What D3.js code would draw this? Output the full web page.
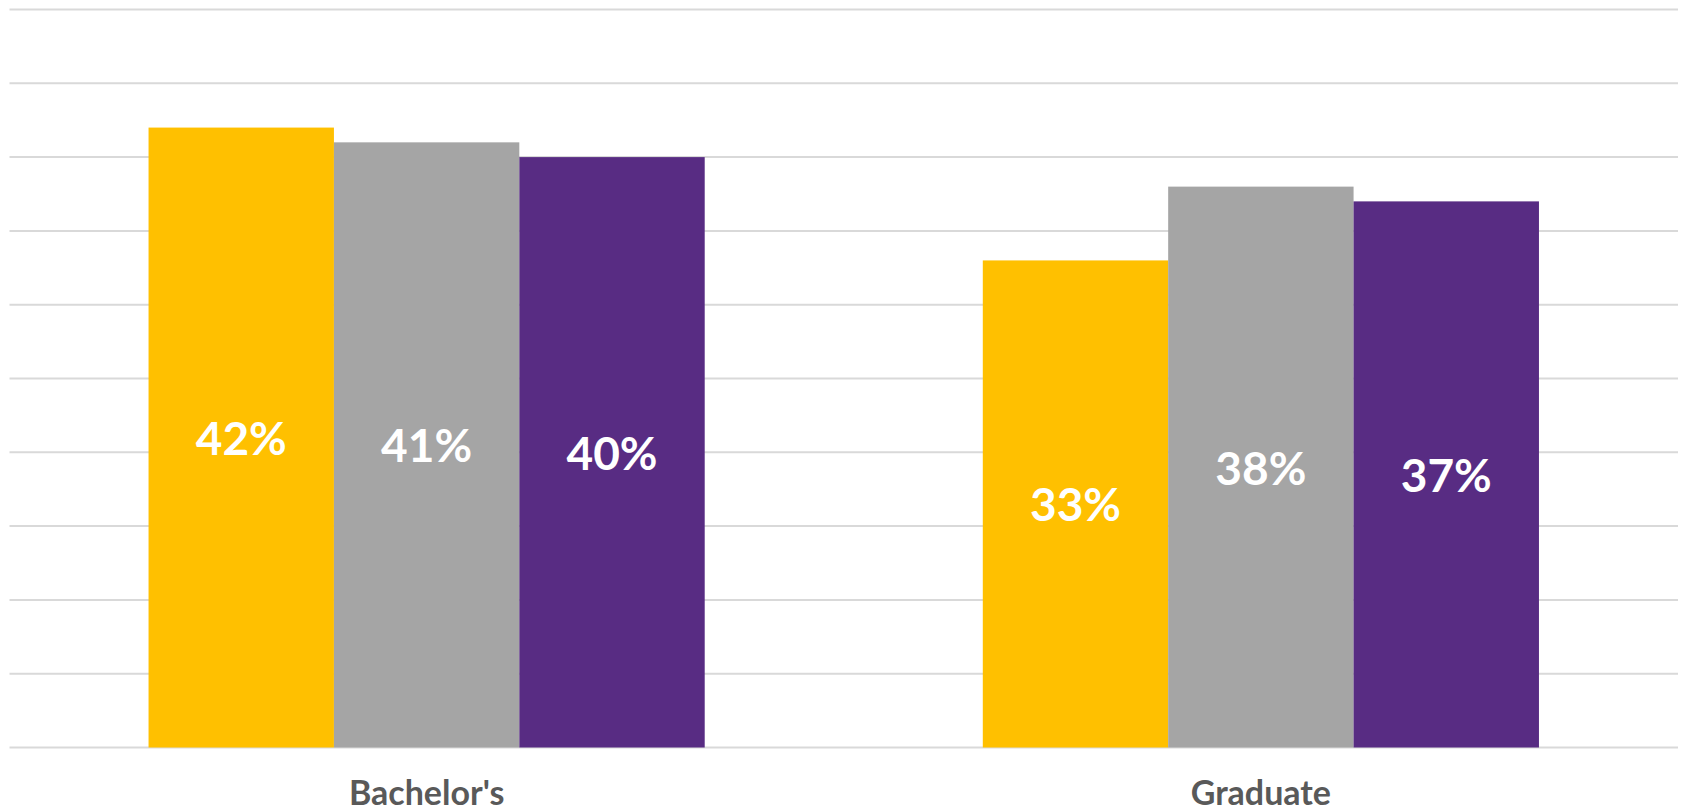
<!DOCTYPE html>
<html>
<head>
<meta charset="utf-8">
<script src="https://cdn.jsdelivr.net/npm/d3@7"></script>
<style>
  html, body { margin: 0; padding: 0; background: #ffffff; }
  svg { display: block; }
</style>
</head>
<body>
<svg id="chart" width="1683" height="812"></svg>
<script>
// Degree levels and the three series shown for each
const categories = ["Bachelor's", "Graduate"];
const seriesNames = ["Series A", "Series B", "Series C"];
const seriesColors = ["#FFC000", "#A5A5A5", "#582C83"];
const seriesA = [42, 33];
const seriesB = [41, 38];
const seriesC = [40, 37];
const gridTicks = [0, 5, 10, 15, 20, 25, 30, 35, 40, 45, 50];

const seriesValues = [seriesA, seriesB, seriesC];
const rows = categories.map((c, i) => ({
  category: c,
  values: seriesNames.map((s, j) => ({ series: s, color: seriesColors[j], value: seriesValues[j][i] }))
}));

const width = 1683, height = 812;
const margin = { top: 9.5, right: 5, bottom: 64.5, left: 9.5 };
const plotRight = width - margin.right;
const plotBottom = height - margin.bottom;

const svg = d3.select("#chart");

const x0 = d3.scaleBand()
  .domain(categories)
  .range([margin.left, plotRight])
  .paddingInner(1 / 3)
  .paddingOuter(1 / 6);

const x1 = d3.scaleBand()
  .domain(seriesNames)
  .range([0, x0.bandwidth()])
  .padding(0);

const y = d3.scaleLinear()
  .domain([0, 50])
  .range([plotBottom, margin.top]);

// Horizontal gridlines
svg.append("g")
  .selectAll("line")
  .data(gridTicks)
  .join("line")
  .attr("x1", margin.left)
  .attr("x2", plotRight)
  .attr("y1", d => y(d))
  .attr("y2", d => y(d))
  .attr("stroke", "#D9D9D9")
  .attr("stroke-width", 2);

// Clustered bars
const groups = svg.append("g")
  .selectAll("g")
  .data(rows)
  .join("g")
  .attr("transform", d => `translate(${x0(d.category)},0)`);

groups.selectAll("rect")
  .data(d => d.values)
  .join("rect")
  .attr("x", d => x1(d.series))
  .attr("width", x1.bandwidth())
  .attr("y", d => y(d.value))
  .attr("height", d => y(0) - y(d.value))
  .attr("fill", d => d.color);

// Value labels centred inside each bar
const labelSize = 46;
groups.selectAll("text")
  .data(d => d.values)
  .join("text")
  .attr("x", d => x1(d.series) + x1.bandwidth() / 2)
  .attr("y", d => (y(d.value) + y(0)) / 2 + labelSize * 0.38)
  .attr("text-anchor", "middle")
  .attr("font-family", "Lato, 'Open Sans', sans-serif")
  .attr("font-weight", "bold")
  .attr("font-size", labelSize)
  .attr("fill", "#FFFFFF")
  .text(d => d.value + "%");

// Category axis labels
const xAxis = d3.axisBottom(x0).tickSize(0).tickPadding(0);
const axisG = svg.append("g")
  .attr("transform", `translate(0,${plotBottom})`)
  .call(xAxis);
axisG.select(".domain").remove();
axisG.selectAll("text")
  .attr("dy", null)
  .attr("y", 57.5)
  .attr("font-family", "Lato, 'Open Sans', sans-serif")
  .attr("font-weight", "bold")
  .attr("font-size", 34)
  .attr("fill", "#595959");
</script>
</body>
</html>
